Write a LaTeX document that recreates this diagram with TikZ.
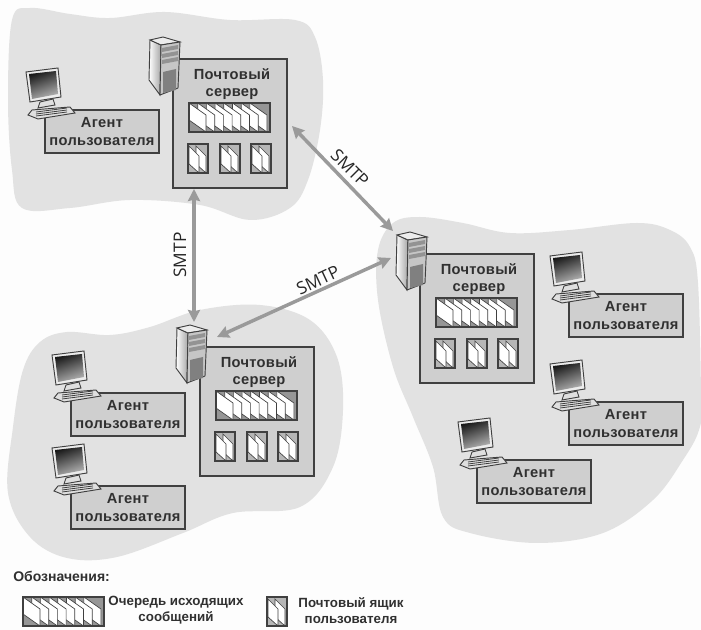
\documentclass[tikz,border=0pt]{standalone}
\usepackage{fontspec}
\setmainfont{Liberation Sans}
\newfontfamily\boxfont[LetterSpace=2]{Liberation Sans}
\newfontfamily\smtpfont{Open Sans}
\usepackage{xcolor}
\usetikzlibrary{arrows.meta}
\definecolor{pagegray}{HTML}{FDFDFD}
\definecolor{cloudgray}{HTML}{E2E2E2}
\definecolor{boxgray}{HTML}{CFCFCF}
\definecolor{slotgray}{HTML}{969696}
\definecolor{linegray}{HTML}{404040}
\definecolor{textgray}{HTML}{303030}
\definecolor{arrowgray}{HTML}{9A9A9A}
\tikzset{
  cloud/.style={fill=cloudgray,draw=none},
  boxlabel/.style={font=\boxfont\bfseries\fontsize{11}{13}\selectfont,text=textgray,align=center,inner sep=0pt},
  legendlabel/.style={font=\bfseries\fontsize{10}{12}\selectfont,text=textgray,align=center,inner sep=0pt},
  smtplabel/.style={font=\smtpfont\fontsize{13}{15}\selectfont,text=black!85,inner sep=0pt},
  smtp/.style={<->,>={Stealth[length=9pt,width=9pt,inset=1pt]},draw=arrowgray,line width=2.6pt},
  frame/.style={draw=linegray,line width=0.8pt},
  sheet/.style={fill=white,draw=linegray,line width=0.5pt},
  icon/.style={draw=linegray,line width=0.7pt},
  outqueue/.pic={
    \fill[slotgray] (0,0) rectangle (81,29);
    \foreach \i in {7,...,0} {
      \filldraw[sheet] (\i*8.7,0) -- (\i*8.7+17,12) -- (\i*8.7+17,29) -- (\i*8.7,17) -- cycle;
    }
    \draw[frame] (0,0) rectangle (81,29);
  },
  mailbox/.pic={
    \fill[slotgray!70] (0,0) rectangle (20,29);
    \foreach \i in {1,0} {
      \filldraw[sheet] (\i*7+1,2) -- (\i*7+11,12) -- (\i*7+11,29) -- (\i*7+1,20) -- cycle;
    }
    \draw[frame] (0,0) rectangle (20,29);
  },
  mailserver/.pic={
    \filldraw[fill=boxgray,frame] (0,0) rectangle (114,129);
    \node[boxlabel] (-label) at (59,25) {Почтовый\\сервер};
    \pic at (16,44) {outqueue};
    \foreach \x in {15,47,78} {
      \pic at (\x,85) {mailbox};
    }
    % tower
    \shade[left color=white,right color=gray!70!white,icon] (-23,-19) -- (-12,-14) -- (-13,36) -- (-24,21) -- cycle;
    \filldraw[fill=gray!15!white,icon] (-23,-19) -- (-10,-22) -- (7,-17) -- (-12,-14) -- cycle;
    \filldraw[fill=gray!45!white,icon] (-12,-14) -- (7,-17) -- (5,29) -- (-13,36) -- cycle;
    \foreach \y in {-11,-5,1} {
      \fill[gray!85!white] (-11,\y) -- (5,\y-3) -- (5,\y+1) -- (-11,\y+4) -- cycle;
    }
    \fill[gray] (-10,13) -- (3,10) -- (3,31) -- (-10,34) -- cycle;
  },
  useragent/.pic={
    \filldraw[fill=boxgray,frame] (0,0) rectangle (114,43);
    \node[boxlabel] (-label) at (57,21.5) {Агент\\пользователя};
    % monitor
    \filldraw[fill=gray!25!white,icon] (-5,-8) -- (8,-11) -- (10,-5) -- (-7,-2) -- cycle;
    \filldraw[fill=gray!15!white,icon] (-19,-38) -- (13,-42) -- (16,-13) -- (-15,-8) -- cycle;
    \shade[left color=black!90,middle color=black!55,right color=black!30,shading angle=20] (-16,-36) -- (11,-39) -- (13,-16) -- (-13,-11) -- cycle;
    % keyboard
    \filldraw[fill=gray!25!white,icon] (-17,5) -- (-13,0) -- (25,-3) -- (30,3) -- (-7,9) -- cycle;
    \foreach \y in {2,4,6} {
      \draw[linegray,line width=0.6pt] (-9,\y) -- (22,\y-4);
    }
  }
}
\begin{document}
\begin{tikzpicture}[x=0.75pt,y=-0.75pt]
\useasboundingbox (0,0) rectangle (701,630);
\fill[pagegray] (0,0) rectangle (701,630);
% clouds
\draw[cloud] plot[smooth cycle,tension=0.6] coordinates {(12,20) (30,8) (70,14) (110,18) (165,12) (230,20) (295,20) (315,37) (323,80) (320,130) (308,180) (290,208) (250,220) (200,205) (130,200) (70,208) (22,208) (12,170) (8,100)};
\draw[cloud] plot[smooth cycle,tension=0.6] coordinates {(40,342) (67,332) (110,335) (150,327) (200,310) (260,305) (310,320) (337,357) (343,410) (333,467) (300,507) (233,513) (183,533) (117,557) (67,558) (30,537) (8,493) (13,427) (23,370)};
\draw[cloud] plot[smooth cycle,tension=0.6] coordinates {(393,223) (420,217) (463,223) (510,233) (570,230) (637,223) (670,230) (690,247) (698,283) (701,400) (699,430) (683,460) (653,500) (603,533) (537,543) (470,533) (443,517) (433,467) (413,417) (393,367) (378,300) (378,250)};
% servers
\pic (srvA) at (173,59) {mailserver};
\pic (srvB) at (200,347) {mailserver};
\pic (srvC) at (420,254) {mailserver};
% agents
\pic (agA) at (45,110) {useragent};
\pic (agB) at (71,393) {useragent};
\pic (agC) at (71,486) {useragent};
\pic (agD) at (569,294) {useragent};
\pic (agE) at (569,402) {useragent};
\pic (agF) at (477,460) {useragent};
% smtp links
\coordinate (linkAsouth) at (194,189);
\coordinate (linkBnorth) at (194,322);
\coordinate (linkAeast) at (292,126);
\coordinate (linkCnorth) at (393,231);
\coordinate (linkCwest) at (391,258);
\coordinate (linkBeast) at (217,337);
\draw[smtp] (linkAsouth) -- (linkBnorth);
\draw[smtp] (linkAeast) -- (linkCnorth);
\draw[smtp] (linkCwest) -- (linkBeast);
\node[smtplabel,rotate=90] (smtpAB) at (180,255) {SMTP};
\node[smtplabel,rotate=-45] (smtpAC) at (350,168) {SMTP};
\node[smtplabel,rotate=25] (smtpBC) at (318,280) {SMTP};
% legend
\node[legendlabel,anchor=west,font=\bfseries\fontsize{10.5}{12}\selectfont] (legend) at (13,576) {Обозначения:};
\pic at (23,597) {outqueue};
\node[legendlabel] (legendQueue) at (176,610) {Очередь исходящих\\сообщений};
\pic at (267,597) {mailbox};
\node[legendlabel] (legendBox) at (351,611) {Почтовый ящик\\пользователя};
\end{tikzpicture}
\end{document}
